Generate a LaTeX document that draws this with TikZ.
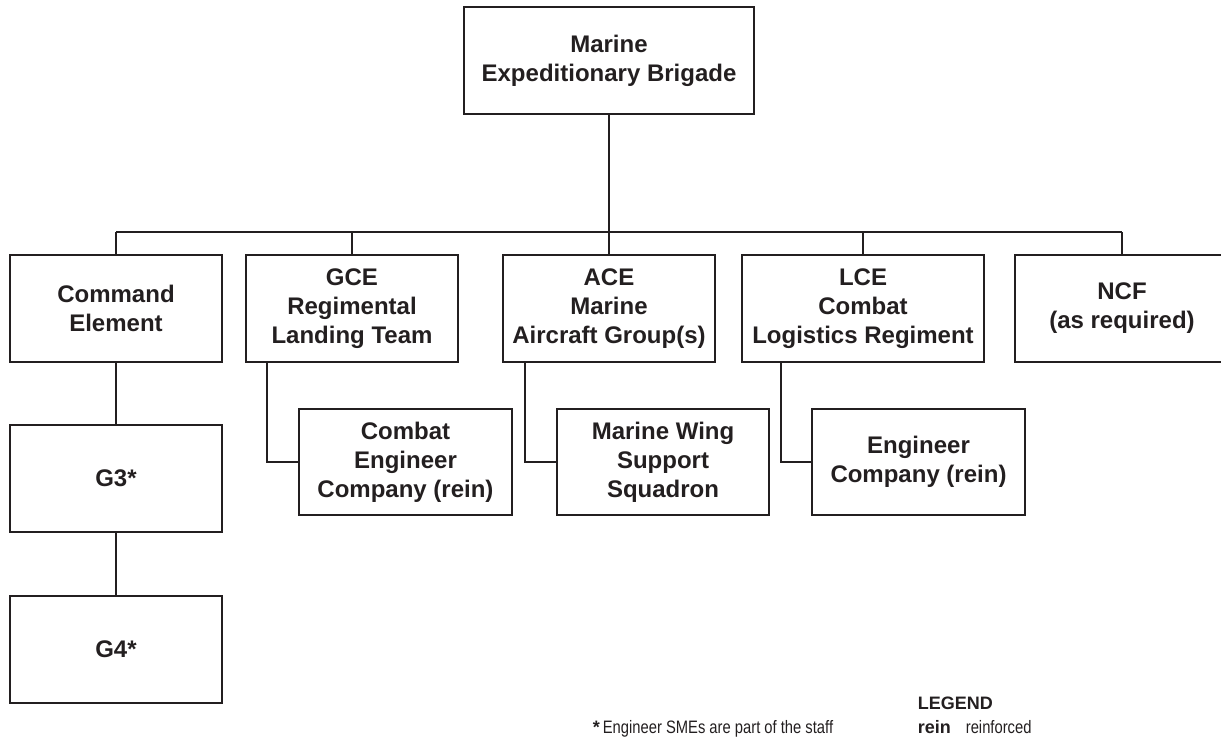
\documentclass[tikz,border=0pt]{standalone}
\usepackage{fontspec}
\setmainfont{Liberation Sans}
\newfontfamily\narrowfont{Liberation Sans}[FakeStretch=0.82]
\definecolor{ink}{RGB}{35,31,32}
\begin{document}
\begin{tikzpicture}[x=1pt,y=-1pt,
  line width=1.7pt, draw=ink,
  unit/.style={draw=ink, line width=1.7pt, rectangle, inner sep=0pt,
    minimum width=212pt, minimum height=107pt, align=center,
    text=ink, font=\fontsize{24}{29}\selectfont\bfseries},
  note/.style={inner sep=0pt, text=ink, anchor=base west,
    font=\fontsize{18}{21}\selectfont\narrowfont},
  notekey/.style={note, font=\fontsize{18}{21}\selectfont\bfseries}
]
\useasboundingbox (0,0) rectangle (1221,739);

% top of the organisation
\node[unit, minimum width=290pt] (meb) at (609,60.5) {Marine\\Expeditionary Brigade};

% major subordinate elements
\node[unit] (ce)  at (116,308.5) {Command\\Element};
\node[unit] (gce) at (352,308.5) {GCE\\Regimental\\Landing Team};
\node[unit] (ace) at (609,308.5) {ACE\\Marine\\Aircraft Group(s)};
\node[unit, minimum width=242pt] (lce) at (863,308.5) {LCE\\Combat\\Logistics Regiment};
\node[unit, minimum width=214pt] (ncf) at (1122,308.5) {NCF\\(as required)};

% engineer units within each element
\node[unit, minimum width=213pt, minimum height=106pt] (cec) at (405.5,462) {Combat\\Engineer\\Company (rein)};
\node[unit, minimum height=106pt] (mwss) at (663,462) {Marine Wing\\Support\\Squadron};
\node[unit, minimum width=213pt, minimum height=106pt] (ec) at (918.5,462) {Engineer\\Company (rein)};

% staff sections of the command element
\node[unit] (g3) at (116,478.5) {G3*};
\node[unit] (g4) at (116,649.5) {G4*};

% distribution bus
\coordinate (busL) at (116,232);
\coordinate (busR) at (1122,232);
\draw (busL) -- (busR);
\draw (meb.south) -- (meb.south |- busL);
\foreach \n in {ce,gce,ace,lce,ncf}
  \draw (\n.north) -- (\n.north |- busL);

% element to engineer unit
\draw ([xshift=-85pt]gce.south) |- (cec.west);
\draw ([xshift=-84pt]ace.south) |- (mwss.west);
\draw ([xshift=-82pt]lce.south) |- (ec.west);

% command element staff chain
\draw (ce.south) -- (g3.north);
\draw (g3.south) -- (g4.north);

% footnote and legend
\node[note] (fn) at (592,733) {{\normalfont\fontsize{18}{21}\selectfont\bfseries *}\,Engineer SMEs are part of the staff};
\node[notekey] (lg) at (917,709) {LEGEND};
\node[notekey] (lgk) at (917,733) {rein};
\node[note] (lgv) at (965,733) {reinforced};
\end{tikzpicture}
\end{document}
